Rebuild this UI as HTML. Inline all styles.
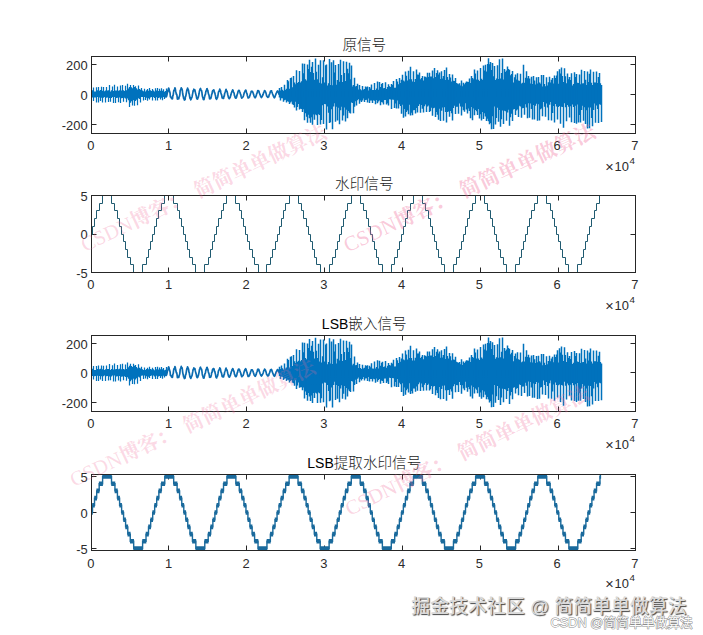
<!DOCTYPE html>
<html lang="zh-CN"><head><meta charset="utf-8"><title>LSB</title>
<style>
html,body{margin:0;padding:0;background:#fff;}
body{width:703px;height:635px;overflow:hidden;position:relative;font-family:"Liberation Sans","Noto Sans CJK SC",sans-serif;}
svg{position:absolute;left:0;top:0;display:block}
.tk{font-family:"Liberation Sans","Noto Sans CJK SC",sans-serif;font-size:12.9px;fill:#2b2b2b;}
.tt{font-family:"Liberation Sans","Noto Sans CJK SC",sans-serif;font-size:14.6px;fill:#1c1c1c;font-weight:300;}
.tt .lat{font-weight:400;fill:#000;font-size:14px}
.wv{fill:none;stroke:#0072BD;stroke-width:1.25}
.sp{fill:none;stroke:#0072BD;stroke-width:1.5}
.sn{fill:none;stroke:#0b6bb0;stroke-width:1.7;stroke-linejoin:round}
.pk{font-family:"Liberation Serif","Noto Serif CJK SC",serif;font-size:20.5px;font-weight:700;fill:#f06a98;}
.pl{font-weight:400}
.jj{position:absolute;left:411.3px;top:593px;font-size:18.9px;line-height:28px;white-space:nowrap;font-weight:500;color:#dadada;text-shadow:1px 1px 1px #444;letter-spacing:0px}
.cs{position:absolute;left:550.5px;top:613.6px;font-size:12.8px;line-height:18px;white-space:nowrap;color:#fdfdfd;-webkit-text-stroke:1px #8c8c8c;paint-order:stroke fill;}
</style></head><body>
<svg width="703" height="635" viewBox="0 0 703 635">
<rect width="703" height="635" fill="#fff"/>
<path d="M168.5,133.5v-5 M168.5,56.5v5 M246.5,133.5v-5 M246.5,56.5v5 M324.5,133.5v-5 M324.5,56.5v5 M402.5,133.5v-5 M402.5,56.5v5 M480.5,133.5v-5 M480.5,56.5v5 M558.5,133.5v-5 M558.5,56.5v5 M91.5,64.5h5 M635.5,64.5h-5 M91.5,94.5h5 M635.5,94.5h-5 M91.5,124.5h5 M635.5,124.5h-5" stroke="#262626" stroke-width="1" fill="none"/>
<path d="M92.5,90.2V97.5 M93.5,87.4V101.1 M94.5,91.4V97.6 M95.5,91.4V97.5 M96.5,87.3V102.4 M97.5,90.3V97.1 M98.5,86.9V102.5 M99.5,90.7V97.5 M100.5,90.1V101.0 M101.5,86.7V97.7 M102.5,90.7V102.4 M103.5,87.0V97.7 M104.5,91.2V97.1 M105.5,90.5V102.5 M106.5,86.9V97.7 M107.5,90.4V97.6 M108.5,90.2V101.9 M109.5,85.1V98.0 M110.5,91.4V101.7 M111.5,90.3V97.9 M112.5,86.6V97.1 M113.5,90.9V103.0 M114.5,84.7V97.0 M115.5,90.6V103.0 M116.5,90.4V98.0 M117.5,86.4V97.7 M118.5,90.7V102.2 M119.5,90.2V97.6 M120.5,85.4V102.9 M121.5,90.6V98.3 M122.5,84.9V97.9 M123.5,90.3V101.8 M124.5,91.0V97.8 M125.5,85.7V98.4 M126.5,90.3V102.3 M127.5,83.7V98.6 M128.5,88.5V100.3 M129.5,87.1V107.0 M130.5,84.9V102.7 M131.5,87.2V101.3 M132.5,88.3V105.6 M133.5,85.0V100.2 M134.5,87.0V105.8 M135.5,86.3V100.9 M136.5,88.2V99.8 M137.5,89.6V105.3 M138.5,85.6V98.3 M139.5,89.1V99.1 M140.5,89.8V102.6 M141.5,88.1V97.1 M142.5,90.5V97.1 M143.5,91.3V100.4 M144.5,88.8V97.0 M145.5,91.5V100.0 M146.5,90.2V97.7 M147.5,89.1V100.8 M148.5,90.7V98.2 M149.5,88.0V99.4 M150.5,90.2V97.5 M151.5,90.9V97.0 M152.5,89.1V100.6 M153.5,90.5V97.0 M154.5,91.6V98.0 M155.5,88.3V100.4 M156.5,90.6V97.2 M157.5,88.1V100.4 M158.5,91.0V97.9 M159.5,88.8V97.4 M160.5,90.7V99.5 M161.5,88.3V97.7 M162.5,90.7V100.3 M163.5,89.2V97.1 M164.5,91.7V98.9 M165.5,91.1V96.9 M166.5,88.5V97.2 M282.5,89.7V98.2 M285.5,90.0V99.8 M288.5,81.3V101.8 M291.5,77.4V101.6 M295.5,84.2V101.7 M297.5,82.9V107.1 M298.5,82.0V104.1 M300.5,82.5V108.8 M301.5,81.2V108.9 M303.5,73.3V109.2 M305.5,79.3V113.3 M306.5,80.4V116.7 M308.5,69.0V114.8 M311.5,66.8V117.2 M313.5,72.9V114.6 M316.5,71.8V115.2 M319.5,82.7V114.9 M321.5,83.6V120.1 M322.5,77.3V105.2 M324.5,82.6V104.1 M325.5,65.3V104.3 M327.5,85.4V106.5 M328.5,83.3V112.7 M330.5,84.9V122.3 M334.5,72.6V103.2 M336.5,84.8V106.7 M341.5,75.1V106.7 M344.5,73.1V107.5 M348.5,73.2V111.1 M352.5,86.6V103.0 M355.5,86.5V101.3 M358.5,89.4V98.9 M360.5,89.3V100.4 M363.5,89.7V98.6 M366.5,87.2V99.8 M368.5,90.4V98.6 M370.5,88.6V100.4 M373.5,90.0V100.3 M376.5,88.4V99.9 M378.5,89.8V101.5 M381.5,84.0V102.0 M384.5,87.9V100.0 M387.5,87.1V103.2 M389.5,86.2V99.3 M390.5,86.9V99.6 M392.5,84.9V99.4 M395.5,87.8V103.4 M397.5,81.5V100.4 M400.5,83.0V105.9 M404.5,81.5V109.0 M406.5,75.7V111.9 M407.5,80.6V110.4 M409.5,79.2V104.8 M411.5,79.2V112.7 M414.5,81.9V110.1 M418.5,74.8V105.9 M421.5,77.9V105.0 M424.5,76.4V106.3 M428.5,77.1V105.4 M430.5,76.5V110.9 M431.5,76.6V107.8 M433.5,78.2V108.2 M436.5,72.9V111.9 M442.5,78.6V107.4 M445.5,80.1V111.9 M447.5,77.1V111.9 M448.5,79.8V111.5 M450.5,77.4V110.9 M451.5,81.4V113.3 M453.5,80.7V107.9 M454.5,81.0V105.7 M456.5,83.0V106.7 M460.5,85.4V106.6 M462.5,86.3V106.8 M465.5,82.8V103.3 M468.5,82.0V108.6 M473.5,79.3V108.6 M475.5,73.5V110.0 M476.5,79.6V111.3 M478.5,79.8V108.9 M482.5,80.0V111.9 M484.5,70.5V113.3 M487.5,64.0V118.8 M496.5,78.4V117.9 M501.5,72.9V119.2 M505.5,72.1V111.3 M508.5,69.0V109.7 M510.5,75.3V117.3 M511.5,73.9V113.8 M513.5,82.5V109.5 M514.5,77.2V108.9 M516.5,79.6V110.4 M519.5,81.1V105.8 M522.5,82.7V108.2 M525.5,77.8V104.3 M530.5,83.5V103.4 M535.5,84.4V105.7 M540.5,83.8V109.2 M544.5,84.0V106.7 M547.5,85.4V107.5 M550.5,82.5V102.1 M553.5,83.5V106.1 M555.5,78.1V104.1 M556.5,75.5V106.6 M558.5,83.7V106.9 M562.5,75.9V107.0 M565.5,76.2V107.3 M568.5,79.2V106.8 M570.5,80.1V106.3 M572.5,85.4V104.4 M573.5,84.0V106.9 M575.5,77.1V105.8 M577.5,82.7V104.5 M582.5,83.4V105.7 M586.5,84.9V110.2 M588.5,81.9V107.4 M591.5,82.7V118.0 M594.5,82.5V103.6 M597.5,83.0V109.0 M600.5,83.2V104.8" class="wv"/><path d="M279.5,88.0V97.6 M280.5,90.5V100.5 M281.5,86.9V98.2 M283.5,90.8V101.7 M284.5,84.8V100.2 M286.5,88.7V102.4 M287.5,79.9V101.3 M289.5,88.8V104.1 M290.5,77.9V102.5 M292.5,87.2V104.3 M293.5,76.1V104.9 M294.5,82.5V107.4 M296.5,70.3V110.5 M299.5,71.0V109.4 M302.5,63.5V111.9 M304.5,63.7V120.3 M307.5,64.4V122.7 M309.5,59.8V118.2 M310.5,71.9V122.8 M312.5,62.0V124.8 M314.5,79.7V119.8 M315.5,58.6V114.4 M317.5,79.2V124.9 M318.5,64.7V114.2 M320.5,60.3V124.6 M323.5,60.3V124.0 M326.5,64.4V129.4 M329.5,59.0V123.0 M331.5,62.3V109.2 M332.5,85.3V129.3 M333.5,60.2V106.6 M335.5,65.1V121.8 M337.5,79.9V120.6 M338.5,63.9V107.7 M339.5,81.7V124.2 M340.5,59.7V110.2 M342.5,82.1V120.6 M343.5,61.3V115.5 M345.5,81.1V121.4 M346.5,61.7V109.7 M347.5,68.7V118.3 M349.5,62.8V112.7 M350.5,79.3V113.6 M351.5,65.5V102.4 M353.5,85.1V113.2 M354.5,77.7V106.7 M356.5,86.1V105.6 M357.5,83.8V100.2 M359.5,85.1V103.8 M361.5,90.2V102.0 M362.5,86.1V100.4 M364.5,89.0V101.9 M365.5,86.6V100.0 M367.5,86.5V102.4 M369.5,87.0V103.1 M371.5,84.4V100.4 M372.5,90.0V103.1 M374.5,82.9V100.7 M375.5,90.0V104.3 M377.5,81.4V103.2 M379.5,81.9V100.6 M380.5,87.0V105.3 M382.5,82.9V102.6 M383.5,88.2V104.4 M385.5,82.3V99.9 M386.5,89.0V104.5 M388.5,84.2V105.5 M391.5,84.1V108.9 M393.5,80.9V99.7 M394.5,87.8V108.0 M396.5,79.1V108.6 M398.5,84.2V108.6 M399.5,78.1V104.3 M401.5,79.7V113.8 M402.5,74.7V104.8 M403.5,80.6V117.8 M405.5,71.6V116.4 M408.5,70.7V114.2 M410.5,66.8V115.6 M412.5,81.6V115.2 M413.5,71.3V110.2 M415.5,79.0V113.5 M416.5,69.6V108.0 M417.5,74.6V112.5 M419.5,72.6V104.2 M420.5,79.2V112.8 M422.5,76.0V108.8 M423.5,80.5V112.5 M425.5,76.8V104.5 M426.5,77.5V112.0 M427.5,72.7V106.6 M429.5,72.7V112.0 M432.5,70.4V115.8 M434.5,68.0V107.7 M435.5,77.1V117.0 M437.5,70.3V114.7 M438.5,74.5V119.7 M439.5,72.4V108.7 M440.5,79.0V121.0 M441.5,71.3V110.7 M443.5,76.0V120.7 M444.5,69.9V107.2 M446.5,67.4V122.6 M449.5,74.1V116.7 M452.5,74.4V120.6 M455.5,77.9V113.9 M457.5,83.4V106.8 M458.5,84.2V113.7 M459.5,83.3V103.5 M461.5,80.5V115.6 M463.5,82.8V110.3 M464.5,84.3V111.8 M466.5,81.5V109.4 M467.5,81.8V113.4 M469.5,78.5V110.9 M470.5,83.1V118.2 M471.5,76.1V107.1 M472.5,78.1V120.2 M474.5,69.4V115.2 M477.5,70.4V115.0 M479.5,81.1V118.6 M480.5,68.1V114.3 M481.5,78.8V120.6 M483.5,65.5V119.0 M485.5,64.8V116.4 M486.5,71.6V121.0 M488.5,58.3V121.2 M489.5,64.2V124.3 M490.5,62.0V123.0 M491.5,70.0V129.2 M492.5,63.1V116.2 M493.5,76.2V129.0 M494.5,66.1V106.6 M495.5,79.9V124.6 M497.5,65.2V107.7 M498.5,79.0V121.8 M499.5,59.2V109.9 M500.5,78.5V126.8 M502.5,58.5V110.4 M503.5,79.5V124.1 M504.5,69.1V110.7 M506.5,70.4V120.8 M507.5,66.6V112.6 M509.5,69.7V125.8 M512.5,71.1V121.0 M515.5,74.5V115.1 M517.5,73.2V109.5 M518.5,80.5V117.0 M520.5,73.7V106.5 M521.5,83.5V117.8 M523.5,64.7V108.0 M524.5,82.8V114.7 M526.5,71.3V107.4 M527.5,78.2V118.2 M528.5,75.9V103.2 M529.5,78.6V117.7 M531.5,76.7V109.1 M532.5,83.9V119.5 M533.5,76.0V105.1 M534.5,80.5V119.6 M536.5,77.2V103.7 M537.5,83.5V120.7 M538.5,76.9V104.3 M539.5,82.5V120.5 M541.5,75.0V108.5 M542.5,86.6V116.3 M543.5,75.1V102.0 M545.5,86.2V116.7 M546.5,77.3V103.6 M548.5,82.3V120.2 M549.5,76.8V104.8 M551.5,79.8V120.6 M552.5,77.9V113.1 M554.5,75.6V122.6 M557.5,71.3V119.4 M559.5,69.2V106.0 M560.5,73.5V123.8 M561.5,67.4V106.7 M563.5,82.1V127.7 M564.5,68.3V103.3 M566.5,83.2V121.3 M567.5,73.4V105.0 M569.5,77.1V117.5 M571.5,73.2V122.3 M574.5,72.2V122.9 M576.5,74.1V123.7 M578.5,83.1V122.6 M579.5,74.4V114.9 M580.5,84.3V122.6 M581.5,69.7V110.1 M583.5,83.2V120.8 M584.5,71.0V107.3 M585.5,79.7V123.9 M587.5,71.4V128.5 M589.5,73.7V128.2 M590.5,69.6V107.6 M592.5,84.9V126.2 M593.5,71.7V110.1 M595.5,82.5V122.7 M596.5,71.5V105.4 M598.5,77.0V123.0 M599.5,72.9V104.2 M601.5,84.9V122.0" class="sp"/><path d="M165.50,97.62 165.85,96.88 166.20,95.91 166.55,96.22 166.90,95.01 167.25,93.35 167.60,91.97 167.95,90.84 168.30,89.00 168.65,88.15 169.00,88.84 169.35,90.91 169.70,91.84 170.05,93.09 170.40,96.82 170.75,96.73 171.10,97.22 171.45,98.31 171.80,98.55 172.15,98.87 172.50,98.72 172.85,95.61 173.20,95.20 173.55,92.16 173.90,90.08 174.25,90.36 174.60,89.52 174.95,87.79 175.30,88.76 175.65,91.18 176.00,92.68 176.35,94.30 176.70,94.08 177.05,96.04 177.40,99.18 177.75,98.31 178.10,98.26 178.45,98.84 178.80,98.78 179.15,96.91 179.50,96.29 179.85,94.75 180.20,90.53 180.55,89.89 180.90,89.20 181.25,87.75 181.60,89.21 181.95,88.90 182.30,90.32 182.65,93.51 183.00,95.22 183.35,96.87 183.70,98.50 184.05,98.72 184.40,100.04 184.75,99.55 185.10,99.55 185.45,96.45 185.80,96.21 186.15,94.18 186.50,92.13 186.85,89.84 187.20,89.86 187.55,88.09 187.90,89.07 188.25,89.60 188.60,90.74 188.95,93.42 189.30,94.17 189.65,96.51 190.00,98.46 190.35,97.83 190.70,99.93 191.05,99.34 191.40,98.28 191.75,97.63 192.10,96.70 192.45,94.59 192.80,92.79 193.15,90.72 193.50,90.97 193.85,89.23 194.20,89.72 194.55,90.06 194.90,89.93 195.25,91.86 195.60,93.37 195.95,94.66 196.30,95.92 196.65,98.18 197.00,98.65 197.35,99.14 197.70,98.82 198.05,97.61 198.40,96.82 198.75,95.08 199.10,93.51 199.45,90.99 199.80,90.17 200.15,88.94 200.50,88.45 200.85,90.02 201.20,90.18 201.55,90.63 201.90,92.35 202.25,95.37 202.60,96.98 202.95,97.70 203.30,99.36 203.65,99.47 204.00,99.67 204.35,97.86 204.70,96.52 205.05,94.86 205.40,94.66 205.75,92.01 206.10,90.75 206.45,90.73 206.80,88.83 207.15,88.71 207.50,90.67 207.85,90.35 208.20,92.76 208.55,94.17 208.90,94.82 209.25,96.50 209.60,98.76 209.95,98.85 210.30,98.75 210.65,98.59 211.00,97.89 211.35,96.35 211.70,94.11 212.05,93.79 212.40,91.45 212.75,90.56 213.10,90.65 213.45,89.97 213.80,89.85 214.15,90.92 214.50,92.93 214.85,92.83 215.20,94.70 215.55,95.81 215.90,98.40 216.25,98.84 216.60,99.43 216.95,97.89 217.30,97.95 217.65,97.00 218.00,95.09 218.35,92.79 218.70,91.52 219.05,91.27 219.40,90.68 219.75,89.15 220.10,89.93 220.45,90.43 220.80,92.50 221.15,93.92 221.50,94.40 221.85,96.23 222.20,97.96 222.55,97.44 222.90,98.27 223.25,97.88 223.60,98.36 223.95,96.16 224.30,96.04 224.65,93.39 225.00,92.60 225.35,91.56 225.70,90.37 226.05,89.39 226.40,90.42 226.75,91.16 227.10,91.53 227.45,93.20 227.80,94.79 228.15,96.12 228.50,97.50 228.85,98.19 229.20,98.53 229.55,98.55 229.90,97.46 230.25,97.24 230.60,95.76 230.95,94.84 231.30,93.22 231.65,92.43 232.00,91.16 232.35,90.92 232.70,89.86 233.05,90.48 233.40,91.76 233.75,92.51 234.10,93.23 234.45,95.68 234.80,95.99 235.15,97.48 235.50,98.00 235.85,97.73 236.20,98.00 236.55,97.13 236.90,95.84 237.25,94.20 237.60,93.66 237.95,91.81 238.30,90.95 238.65,90.38 239.00,90.43 239.35,90.72 239.70,91.72 240.05,92.62 240.40,93.92 240.75,94.43 241.10,96.25 241.45,97.40 241.80,98.19 242.15,97.59 242.50,97.41 242.85,97.07 243.20,96.61 243.55,95.48 243.90,94.14 244.25,92.71 244.60,92.01 244.95,90.92 245.30,90.78 245.65,90.04 246.00,90.53 246.35,91.88 246.70,93.35 247.05,93.76 247.40,95.75 247.75,96.76 248.10,97.95 248.45,97.92 248.80,97.81 249.15,97.35 249.50,96.91 249.85,95.50 250.20,94.87 250.55,93.35 250.90,92.47 251.25,91.30 251.60,91.24 251.95,91.20 252.30,91.23 252.65,92.04 253.00,92.64 253.35,93.88 253.70,94.83 254.05,96.03 254.40,96.82 254.75,97.16 255.10,97.83 255.45,97.61 255.80,96.22 256.15,96.20 256.50,94.42 256.85,93.32 257.20,92.89 257.55,91.12 257.90,90.49 258.25,90.60 258.60,90.70 258.95,91.21 259.30,92.85 259.65,93.53 260.00,94.72 260.35,95.47 260.70,96.41 261.05,97.00 261.40,97.51 261.75,97.02 262.10,96.72 262.45,95.86 262.80,95.30 263.15,94.37 263.50,93.15 263.85,91.97 264.20,91.59 264.55,90.51 264.90,90.89 265.25,91.29 265.60,92.08 265.95,93.04 266.30,94.37 266.65,95.99 267.00,96.10 267.35,96.84 267.70,97.45 268.05,97.39 268.40,96.86 268.75,96.75 269.10,95.07 269.45,94.48 269.80,93.57 270.15,92.40 270.50,91.19 270.85,91.33 271.20,90.75 271.55,90.84 271.90,92.02 272.25,93.06 272.60,94.03 272.95,94.90 273.30,95.80 273.65,96.71 274.00,97.13 274.35,97.80 274.70,97.45 275.05,96.73 275.40,95.35 275.75,94.76 276.10,93.42 276.45,92.99 276.80,92.16 277.15,91.45 277.50,90.90 277.85,91.10 278.20,91.67 278.55,92.89 278.90,93.66 279.25,94.77" class="sn"/>
<text x="90.8" y="149.8" text-anchor="middle" class="tk">0</text>
<text x="168.5" y="149.8" text-anchor="middle" class="tk">1</text>
<text x="246.2" y="149.8" text-anchor="middle" class="tk">2</text>
<text x="323.9" y="149.8" text-anchor="middle" class="tk">3</text>
<text x="401.7" y="149.8" text-anchor="middle" class="tk">4</text>
<text x="479.4" y="149.8" text-anchor="middle" class="tk">5</text>
<text x="557.1" y="149.8" text-anchor="middle" class="tk">6</text>
<text x="634.8" y="149.8" text-anchor="middle" class="tk">7</text>
<text x="87.6" y="69.7" text-anchor="end" class="tk">200</text>
<text x="87.6" y="99.7" text-anchor="end" class="tk">0</text>
<text x="87.6" y="129.7" text-anchor="end" class="tk">-200</text>
<rect x="91.5" y="56.5" width="544.0" height="77.0" fill="none" stroke="#262626" stroke-width="1"/>
<text x="605.2" y="172.3" class="tk" style="font-size:14.5px">×</text><text x="614.6" y="170.5" class="tk">10</text><text x="629.6" y="164.0" class="tk" style="font-size:9.8px">4</text>
<text x="364.3" y="49.5" text-anchor="middle" class="tt">原信号</text>
<path d="M168.5,272.5v-5 M168.5,195.5v5 M246.5,272.5v-5 M246.5,195.5v5 M324.5,272.5v-5 M324.5,195.5v5 M402.5,272.5v-5 M402.5,195.5v5 M480.5,272.5v-5 M480.5,195.5v5 M558.5,272.5v-5 M558.5,195.5v5 M91.5,234.5h5 M635.5,234.5h-5" stroke="#262626" stroke-width="1" fill="none"/>
<path d="M91.50,234.50 H92.50 V226.50 H94.50 V218.50 H96.50 V210.50 H99.50 V203.50 H102.50 V195.50 H111.50 V203.50 H114.50 V210.50 H117.50 V218.50 H119.50 V226.50 H121.50 V234.50 H123.50 V241.50 H125.50 V249.50 H127.50 V257.50 H130.50 V264.50 H133.50 V272.50 H142.50 V264.50 H146.50 V257.50 H148.50 V249.50 H150.50 V241.50 H152.50 V234.50 H154.50 V226.50 H156.50 V218.50 H158.50 V210.50 H161.50 V203.50 H164.50 V195.50 H173.50 V203.50 H177.50 V210.50 H179.50 V218.50 H181.50 V226.50 H183.50 V234.50 H185.50 V241.50 H187.50 V249.50 H189.50 V257.50 H192.50 V264.50 H195.50 V272.50 H204.50 V264.50 H208.50 V257.50 H210.50 V249.50 H212.50 V241.50 H214.50 V234.50 H216.50 V226.50 H218.50 V218.50 H221.50 V210.50 H223.50 V203.50 H226.50 V195.50 H235.50 V203.50 H239.50 V210.50 H241.50 V218.50 H243.50 V226.50 H245.50 V234.50 H247.50 V241.50 H249.50 V249.50 H252.50 V257.50 H254.50 V264.50 H258.50 V272.50 H266.50 V264.50 H270.50 V257.50 H272.50 V249.50 H275.50 V241.50 H277.50 V234.50 H279.50 V226.50 H281.50 V218.50 H283.50 V210.50 H285.50 V203.50 H289.50 V195.50 H298.50 V203.50 H301.50 V210.50 H303.50 V218.50 H306.50 V226.50 H308.50 V234.50 H310.50 V241.50 H312.50 V249.50 H314.50 V257.50 H316.50 V264.50 H320.50 V272.50 H329.50 V264.50 H332.50 V257.50 H335.50 V249.50 H337.50 V241.50 H339.50 V234.50 H341.50 V226.50 H343.50 V218.50 H345.50 V210.50 H347.50 V203.50 H351.50 V195.50 H360.50 V203.50 H363.50 V210.50 H366.50 V218.50 H368.50 V226.50 H370.50 V234.50 H372.50 V241.50 H374.50 V249.50 H376.50 V257.50 H378.50 V264.50 H382.50 V272.50 H391.50 V264.50 H394.50 V257.50 H397.50 V249.50 H399.50 V241.50 H401.50 V234.50 H403.50 V226.50 H405.50 V218.50 H407.50 V210.50 H410.50 V203.50 H413.50 V195.50 H422.50 V203.50 H425.50 V210.50 H428.50 V218.50 H430.50 V226.50 H432.50 V234.50 H434.50 V241.50 H436.50 V249.50 H438.50 V257.50 H441.50 V264.50 H444.50 V272.50 H453.50 V264.50 H456.50 V257.50 H459.50 V249.50 H461.50 V241.50 H463.50 V234.50 H465.50 V226.50 H467.50 V218.50 H469.50 V210.50 H472.50 V203.50 H475.50 V195.50 H484.50 V203.50 H487.50 V210.50 H490.50 V218.50 H492.50 V226.50 H494.50 V234.50 H496.50 V241.50 H498.50 V249.50 H500.50 V257.50 H503.50 V264.50 H506.50 V272.50 H515.50 V264.50 H519.50 V257.50 H521.50 V249.50 H523.50 V241.50 H525.50 V234.50 H527.50 V226.50 H529.50 V218.50 H531.50 V210.50 H534.50 V203.50 H537.50 V195.50 H546.50 V203.50 H550.50 V210.50 H552.50 V218.50 H554.50 V226.50 H556.50 V234.50 H558.50 V241.50 H560.50 V249.50 H562.50 V257.50 H565.50 V264.50 H568.50 V272.50 H577.50 V264.50 H581.50 V257.50 H583.50 V249.50 H585.50 V241.50 H587.50 V234.50 H589.50 V226.50 H591.50 V218.50 H594.50 V210.50 H596.50 V203.50 H599.50 V195.50 H600.50" fill="none" stroke="#1f5a70" stroke-width="1"/>
<text x="90.8" y="288.8" text-anchor="middle" class="tk">0</text>
<text x="168.5" y="288.8" text-anchor="middle" class="tk">1</text>
<text x="246.2" y="288.8" text-anchor="middle" class="tk">2</text>
<text x="323.9" y="288.8" text-anchor="middle" class="tk">3</text>
<text x="401.7" y="288.8" text-anchor="middle" class="tk">4</text>
<text x="479.4" y="288.8" text-anchor="middle" class="tk">5</text>
<text x="557.1" y="288.8" text-anchor="middle" class="tk">6</text>
<text x="634.8" y="288.8" text-anchor="middle" class="tk">7</text>
<text x="87.6" y="200.7" text-anchor="end" class="tk">5</text>
<text x="87.6" y="239.2" text-anchor="end" class="tk">0</text>
<text x="87.6" y="277.7" text-anchor="end" class="tk">-5</text>
<rect x="91.5" y="195.5" width="544.0" height="77.0" fill="none" stroke="#262626" stroke-width="1"/>
<text x="605.2" y="311.3" class="tk" style="font-size:14.5px">×</text><text x="614.6" y="309.5" class="tk">10</text><text x="629.6" y="303.0" class="tk" style="font-size:9.8px">4</text>
<text x="364.3" y="188.5" text-anchor="middle" class="tt">水印信号</text>
<path d="M168.5,411.5v-5 M168.5,335.5v5 M246.5,411.5v-5 M246.5,335.5v5 M324.5,411.5v-5 M324.5,335.5v5 M402.5,411.5v-5 M402.5,335.5v5 M480.5,411.5v-5 M480.5,335.5v5 M558.5,411.5v-5 M558.5,335.5v5 M91.5,343.5h5 M635.5,343.5h-5 M91.5,372.5h5 M635.5,372.5h-5 M91.5,402.5h5 M635.5,402.5h-5" stroke="#262626" stroke-width="1" fill="none"/>
<path d="M92.5,368.8V376.0 M93.5,366.1V379.6 M94.5,370.0V376.2 M95.5,370.1V376.1 M96.5,366.0V380.9 M97.5,369.0V375.7 M98.5,365.6V381.0 M99.5,369.3V376.0 M100.5,368.8V379.5 M101.5,365.4V376.2 M102.5,369.3V380.9 M103.5,365.7V376.3 M104.5,369.9V375.6 M105.5,369.2V380.9 M106.5,365.6V376.2 M107.5,369.1V376.1 M108.5,368.9V380.4 M109.5,363.9V376.5 M110.5,370.0V380.2 M111.5,368.9V376.5 M112.5,365.3V375.6 M113.5,369.5V381.5 M114.5,363.4V375.5 M115.5,369.2V381.5 M116.5,369.0V376.6 M117.5,365.1V376.3 M118.5,369.3V380.6 M119.5,368.8V376.1 M120.5,364.2V381.4 M121.5,369.2V376.8 M122.5,363.7V376.5 M123.5,368.9V380.3 M124.5,369.6V376.3 M125.5,364.4V376.9 M126.5,369.0V380.8 M127.5,362.4V377.2 M128.5,367.2V378.8 M129.5,365.8V385.4 M130.5,363.7V381.2 M131.5,365.9V379.8 M132.5,367.0V384.0 M133.5,363.7V378.7 M134.5,365.7V384.2 M135.5,365.0V379.4 M136.5,366.9V378.3 M137.5,368.3V383.8 M138.5,364.3V376.8 M139.5,367.8V377.6 M140.5,368.5V381.1 M141.5,366.8V375.7 M142.5,369.2V375.6 M143.5,370.0V378.9 M144.5,367.5V375.6 M145.5,370.1V378.5 M146.5,368.9V376.3 M147.5,367.7V379.3 M148.5,369.3V376.7 M149.5,366.7V377.9 M150.5,368.9V376.0 M151.5,369.6V375.5 M152.5,367.8V379.1 M153.5,369.2V375.6 M154.5,370.2V376.6 M155.5,367.0V378.9 M156.5,369.3V375.7 M157.5,366.8V378.9 M158.5,369.6V376.5 M159.5,367.5V376.0 M160.5,369.3V378.1 M161.5,367.0V376.3 M162.5,369.3V378.8 M163.5,367.9V375.7 M164.5,370.3V377.4 M165.5,369.8V375.5 M166.5,367.1V375.8 M282.5,368.3V376.7 M285.5,368.6V378.3 M288.5,360.1V380.3 M291.5,356.3V380.1 M295.5,363.0V380.2 M297.5,361.7V385.5 M298.5,360.7V382.6 M300.5,361.3V387.2 M301.5,360.0V387.2 M303.5,352.2V387.5 M305.5,358.1V391.6 M306.5,359.2V395.0 M308.5,348.0V393.1 M311.5,345.8V395.4 M313.5,351.8V392.9 M316.5,350.7V393.5 M319.5,361.5V393.2 M321.5,362.4V398.3 M322.5,356.2V383.6 M324.5,361.4V382.6 M325.5,344.4V382.7 M327.5,364.2V384.9 M328.5,362.1V391.1 M330.5,363.6V400.5 M334.5,351.5V381.7 M336.5,363.6V385.1 M341.5,354.0V385.2 M344.5,352.0V385.9 M348.5,352.1V389.4 M352.5,365.3V381.5 M355.5,365.3V379.8 M358.5,368.1V377.4 M360.5,368.0V379.0 M363.5,368.4V377.1 M366.5,365.9V378.3 M368.5,369.1V377.1 M370.5,367.3V378.9 M373.5,368.7V378.8 M376.5,367.1V378.4 M378.5,368.4V380.0 M381.5,362.7V380.5 M384.5,366.6V378.6 M387.5,365.8V381.6 M389.5,365.0V377.8 M390.5,365.6V378.1 M392.5,363.7V378.0 M395.5,366.5V381.9 M397.5,360.3V378.9 M400.5,361.7V384.3 M404.5,360.3V387.4 M406.5,354.6V390.2 M407.5,359.4V388.8 M409.5,358.0V383.2 M411.5,358.0V391.0 M414.5,360.6V388.4 M418.5,353.6V384.3 M421.5,356.7V383.4 M424.5,355.2V384.7 M428.5,355.9V383.8 M430.5,355.4V389.2 M431.5,355.4V386.1 M433.5,357.1V386.6 M436.5,351.8V390.2 M442.5,357.4V385.8 M445.5,358.9V390.3 M447.5,355.9V390.3 M448.5,358.6V389.9 M450.5,356.3V389.3 M451.5,360.2V391.6 M453.5,359.5V386.3 M454.5,359.8V384.2 M456.5,361.7V385.1 M460.5,364.2V385.1 M462.5,365.0V385.2 M465.5,361.6V381.8 M468.5,360.8V387.0 M473.5,358.1V387.0 M475.5,352.4V388.4 M476.5,358.4V389.7 M478.5,358.6V387.2 M482.5,358.8V390.2 M484.5,349.4V391.6 M487.5,343.0V397.0 M496.5,357.3V396.2 M501.5,351.8V397.4 M505.5,351.1V389.6 M508.5,347.9V388.0 M510.5,354.2V395.6 M511.5,352.8V392.1 M513.5,361.3V387.8 M514.5,356.1V387.3 M516.5,358.4V388.8 M519.5,359.9V384.3 M522.5,361.5V386.5 M525.5,356.7V382.8 M530.5,362.2V381.9 M535.5,363.1V384.1 M540.5,362.5V387.6 M544.5,362.8V385.1 M547.5,364.2V385.9 M550.5,361.3V380.6 M553.5,362.3V384.5 M555.5,356.9V382.6 M556.5,354.4V385.0 M558.5,362.4V385.3 M562.5,354.8V385.4 M565.5,355.1V385.7 M568.5,358.1V385.2 M570.5,358.9V384.7 M572.5,364.1V382.9 M573.5,362.8V385.3 M575.5,356.0V384.2 M577.5,361.5V383.0 M582.5,362.2V384.1 M586.5,363.6V388.5 M588.5,360.6V385.8 M591.5,361.5V396.2 M594.5,361.3V382.0 M597.5,361.8V387.3 M600.5,361.9V383.2" class="wv"/><path d="M279.5,366.7V376.1 M280.5,369.1V379.0 M281.5,365.6V376.7 M283.5,369.5V380.1 M284.5,363.5V378.7 M286.5,367.4V380.9 M287.5,358.7V379.8 M289.5,367.5V382.5 M290.5,356.7V380.9 M292.5,365.9V382.8 M293.5,355.0V383.3 M294.5,361.3V385.8 M296.5,349.3V388.9 M299.5,349.9V387.8 M302.5,342.6V390.2 M304.5,342.8V398.5 M307.5,343.5V400.8 M309.5,339.0V396.4 M310.5,350.8V401.0 M312.5,341.1V403.0 M314.5,358.6V398.0 M315.5,337.8V392.7 M317.5,358.1V403.0 M318.5,343.8V392.5 M320.5,339.4V402.8 M323.5,339.4V402.2 M326.5,343.5V407.5 M329.5,338.2V401.2 M331.5,341.4V387.6 M332.5,364.0V407.4 M333.5,339.3V385.0 M335.5,344.2V400.0 M337.5,358.7V398.8 M338.5,342.9V386.1 M339.5,360.5V402.3 M340.5,338.8V388.5 M342.5,360.9V398.8 M343.5,340.4V393.8 M345.5,359.9V399.6 M346.5,340.8V388.0 M347.5,347.7V396.6 M349.5,341.8V391.0 M350.5,358.1V391.9 M351.5,344.6V380.9 M353.5,363.8V391.5 M354.5,356.6V385.1 M356.5,364.9V384.1 M357.5,362.5V378.7 M359.5,363.9V382.2 M361.5,368.9V380.5 M362.5,364.8V378.9 M364.5,367.7V380.4 M365.5,365.3V378.5 M367.5,365.2V380.9 M369.5,365.7V381.5 M371.5,363.2V378.9 M372.5,368.6V381.6 M374.5,361.6V379.2 M375.5,368.6V382.8 M377.5,360.2V381.7 M379.5,360.7V379.1 M380.5,365.7V383.7 M382.5,361.7V381.1 M383.5,366.9V382.9 M385.5,361.1V378.4 M386.5,367.7V382.9 M388.5,362.9V383.9 M391.5,362.8V387.3 M393.5,359.7V378.2 M394.5,366.5V386.4 M396.5,357.9V387.0 M398.5,362.9V387.0 M399.5,356.9V382.7 M401.5,358.5V392.1 M402.5,353.6V383.3 M403.5,359.4V396.0 M405.5,350.5V394.7 M408.5,349.7V392.5 M410.5,345.8V393.9 M412.5,360.4V393.4 M413.5,350.3V388.5 M415.5,357.8V391.8 M416.5,348.6V386.4 M417.5,353.5V390.8 M419.5,351.5V382.6 M420.5,358.0V391.1 M422.5,354.9V387.2 M423.5,359.3V390.8 M425.5,355.7V383.0 M426.5,356.4V390.4 M427.5,351.6V385.1 M429.5,351.6V390.4 M432.5,349.3V394.1 M434.5,347.0V386.1 M435.5,356.0V395.3 M437.5,349.3V393.0 M438.5,353.4V397.9 M439.5,351.4V387.1 M440.5,357.8V399.2 M441.5,350.2V389.0 M443.5,354.9V398.9 M444.5,348.9V385.6 M446.5,346.4V400.8 M449.5,353.0V395.0 M452.5,353.3V398.8 M455.5,356.8V392.2 M457.5,362.2V385.2 M458.5,362.9V392.0 M459.5,362.1V381.9 M461.5,359.3V393.8 M463.5,361.6V388.6 M464.5,363.1V390.2 M466.5,360.3V387.8 M467.5,360.6V391.7 M469.5,357.4V389.2 M470.5,361.9V396.4 M471.5,355.0V385.5 M472.5,356.9V398.4 M474.5,348.4V393.5 M477.5,349.4V393.3 M479.5,359.9V396.8 M480.5,347.1V392.6 M481.5,357.6V398.8 M483.5,344.5V397.2 M485.5,343.8V394.7 M486.5,350.5V399.2 M488.5,337.5V399.4 M489.5,343.2V402.5 M490.5,341.1V401.1 M491.5,348.9V407.2 M492.5,342.2V394.5 M493.5,355.1V407.1 M494.5,345.1V385.0 M495.5,358.7V402.8 M497.5,344.3V386.1 M498.5,357.8V399.9 M499.5,338.3V388.3 M500.5,357.3V404.9 M502.5,337.6V388.7 M503.5,358.4V402.3 M504.5,348.1V389.1 M506.5,349.4V399.0 M507.5,345.6V390.9 M509.5,348.7V403.9 M512.5,350.0V399.2 M515.5,353.4V393.4 M517.5,352.2V387.9 M518.5,359.3V395.2 M520.5,352.6V384.9 M521.5,362.2V396.0 M523.5,343.8V386.4 M524.5,361.6V393.0 M526.5,350.2V385.8 M527.5,357.0V396.4 M528.5,354.8V381.6 M529.5,357.4V395.9 M531.5,355.5V387.5 M532.5,362.6V397.7 M533.5,354.9V383.5 M534.5,359.3V397.8 M536.5,356.1V382.1 M537.5,362.3V398.9 M538.5,355.8V382.7 M539.5,361.3V398.7 M541.5,353.9V386.9 M542.5,365.3V394.5 M543.5,354.0V380.5 M545.5,364.9V394.9 M546.5,356.2V382.1 M548.5,361.1V398.4 M549.5,355.7V383.2 M551.5,358.6V398.8 M552.5,356.7V391.4 M554.5,354.4V400.7 M557.5,350.2V397.6 M559.5,348.2V384.4 M560.5,352.4V401.9 M561.5,346.4V385.1 M563.5,360.9V405.8 M564.5,347.2V381.7 M566.5,362.0V399.5 M567.5,352.3V383.4 M569.5,355.9V395.8 M571.5,352.1V400.4 M574.5,351.1V401.1 M576.5,353.0V401.9 M578.5,361.9V400.8 M579.5,353.3V393.2 M580.5,363.1V400.8 M581.5,348.7V388.5 M583.5,361.9V399.0 M584.5,349.9V385.7 M585.5,358.5V402.1 M587.5,350.4V406.6 M589.5,352.6V406.3 M590.5,348.5V386.0 M592.5,363.6V404.4 M593.5,350.6V388.4 M595.5,361.2V400.9 M596.5,350.4V383.8 M598.5,355.8V401.1 M599.5,351.8V382.7 M601.5,363.6V400.2" class="sp"/><path d="M165.50,376.17 165.85,375.44 166.20,374.49 166.55,374.79 166.90,373.60 167.25,371.96 167.60,370.60 167.95,369.49 168.30,367.68 168.65,366.84 169.00,367.52 169.35,369.56 169.70,370.48 170.05,371.70 170.40,375.38 170.75,375.29 171.10,375.78 171.45,376.84 171.80,377.08 172.15,377.40 172.50,377.26 172.85,374.19 173.20,373.79 173.55,370.79 173.90,368.74 174.25,369.02 174.60,368.19 174.95,366.49 175.30,367.44 175.65,369.82 176.00,371.30 176.35,372.90 176.70,372.69 177.05,374.61 177.40,377.71 177.75,376.85 178.10,376.80 178.45,377.37 178.80,377.31 179.15,375.47 179.50,374.86 179.85,373.34 180.20,369.19 180.55,368.56 180.90,367.88 181.25,366.44 181.60,367.88 181.95,367.58 182.30,368.98 182.65,372.12 183.00,373.81 183.35,375.43 183.70,377.04 184.05,377.25 184.40,378.55 184.75,378.07 185.10,378.07 185.45,375.02 185.80,374.78 186.15,372.78 186.50,370.76 186.85,368.51 187.20,368.53 187.55,366.78 187.90,367.75 188.25,368.27 188.60,369.39 188.95,372.03 189.30,372.77 189.65,375.07 190.00,377.00 190.35,376.38 190.70,378.45 191.05,377.87 191.40,376.82 191.75,376.18 192.10,375.27 192.45,373.19 192.80,371.41 193.15,369.37 193.50,369.62 193.85,367.90 194.20,368.39 194.55,368.72 194.90,368.59 195.25,370.49 195.60,371.99 195.95,373.25 196.30,374.49 196.65,376.72 197.00,377.18 197.35,377.67 197.70,377.35 198.05,376.16 198.40,375.38 198.75,373.67 199.10,372.12 199.45,369.64 199.80,368.83 200.15,367.62 200.50,367.14 200.85,368.68 201.20,368.84 201.55,369.28 201.90,370.98 202.25,373.95 202.60,375.54 202.95,376.25 203.30,377.88 203.65,377.99 204.00,378.18 204.35,376.41 204.70,375.09 205.05,373.45 205.40,373.25 205.75,370.65 206.10,369.40 206.45,369.38 206.80,367.51 207.15,367.39 207.50,369.32 207.85,369.01 208.20,371.38 208.55,372.77 208.90,373.41 209.25,375.06 209.60,377.29 209.95,377.38 210.30,377.28 210.65,377.12 211.00,376.43 211.35,374.92 211.70,372.71 212.05,372.40 212.40,370.09 212.75,369.22 213.10,369.30 213.45,368.63 213.80,368.52 214.15,369.56 214.50,371.55 214.85,371.45 215.20,373.30 215.55,374.39 215.90,376.93 216.25,377.37 216.60,377.95 216.95,376.43 217.30,376.49 217.65,375.56 218.00,373.68 218.35,371.41 218.70,370.16 219.05,369.92 219.40,369.33 219.75,367.83 220.10,368.60 220.45,369.08 220.80,371.12 221.15,372.52 221.50,373.00 221.85,374.80 222.20,376.51 222.55,375.99 222.90,376.81 223.25,376.43 223.60,376.90 223.95,374.73 224.30,374.61 224.65,372.01 225.00,371.22 225.35,370.20 225.70,369.03 226.05,368.06 226.40,369.08 226.75,369.81 227.10,370.17 227.45,371.82 227.80,373.39 228.15,374.69 228.50,376.05 228.85,376.73 229.20,377.06 229.55,377.09 229.90,376.01 230.25,375.80 230.60,374.33 230.95,373.43 231.30,371.83 231.65,371.05 232.00,369.80 232.35,369.57 232.70,368.53 233.05,369.14 233.40,370.40 233.75,371.13 234.10,371.84 234.45,374.25 234.80,374.56 235.15,376.03 235.50,376.55 235.85,376.28 236.20,376.54 236.55,375.69 236.90,374.42 237.25,372.80 237.60,372.27 237.95,370.44 238.30,369.60 238.65,369.04 239.00,369.09 239.35,369.38 239.70,370.36 240.05,371.25 240.40,372.52 240.75,373.02 241.10,374.82 241.45,375.95 241.80,376.73 242.15,376.14 242.50,375.96 242.85,375.63 243.20,375.17 243.55,374.06 243.90,372.74 244.25,371.33 244.60,370.64 244.95,369.57 245.30,369.43 245.65,368.70 246.00,369.18 246.35,370.52 246.70,371.97 247.05,372.36 247.40,374.32 247.75,375.32 248.10,376.50 248.45,376.47 248.80,376.35 249.15,375.90 249.50,375.47 249.85,374.08 250.20,373.46 250.55,371.97 250.90,371.10 251.25,369.94 251.60,369.89 251.95,369.85 252.30,369.88 252.65,370.67 253.00,371.27 253.35,372.49 253.70,373.42 254.05,374.60 254.40,375.38 254.75,375.71 255.10,376.37 255.45,376.16 255.80,374.79 256.15,374.77 256.50,373.02 256.85,371.93 257.20,371.51 257.55,369.77 257.90,369.15 258.25,369.26 258.60,369.36 258.95,369.86 259.30,371.47 259.65,372.14 260.00,373.31 260.35,374.05 260.70,374.98 261.05,375.56 261.40,376.06 261.75,375.58 262.10,375.28 262.45,374.44 262.80,373.89 263.15,372.97 263.50,371.77 263.85,370.60 264.20,370.23 264.55,369.16 264.90,369.54 265.25,369.93 265.60,370.71 265.95,371.65 266.30,372.96 266.65,374.56 267.00,374.67 267.35,375.40 267.70,376.00 268.05,375.94 268.40,375.42 268.75,375.31 269.10,373.66 269.45,373.08 269.80,372.18 270.15,371.03 270.50,369.84 270.85,369.98 271.20,369.40 271.55,369.49 271.90,370.65 272.25,371.67 272.60,372.63 272.95,373.49 273.30,374.37 273.65,375.27 274.00,375.69 274.35,376.35 274.70,376.00 275.05,375.29 275.40,373.93 275.75,373.35 276.10,372.03 276.45,371.61 276.80,370.79 277.15,370.10 277.50,369.55 277.85,369.75 278.20,370.31 278.55,371.51 278.90,372.27 279.25,373.36" class="sn"/>
<text x="90.8" y="427.8" text-anchor="middle" class="tk">0</text>
<text x="168.5" y="427.8" text-anchor="middle" class="tk">1</text>
<text x="246.2" y="427.8" text-anchor="middle" class="tk">2</text>
<text x="323.9" y="427.8" text-anchor="middle" class="tk">3</text>
<text x="401.7" y="427.8" text-anchor="middle" class="tk">4</text>
<text x="479.4" y="427.8" text-anchor="middle" class="tk">5</text>
<text x="557.1" y="427.8" text-anchor="middle" class="tk">6</text>
<text x="634.8" y="427.8" text-anchor="middle" class="tk">7</text>
<text x="87.6" y="348.7" text-anchor="end" class="tk">200</text>
<text x="87.6" y="378.2" text-anchor="end" class="tk">0</text>
<text x="87.6" y="407.7" text-anchor="end" class="tk">-200</text>
<rect x="91.5" y="335.5" width="544.0" height="76.0" fill="none" stroke="#262626" stroke-width="1"/>
<text x="605.2" y="450.3" class="tk" style="font-size:14.5px">×</text><text x="614.6" y="448.5" class="tk">10</text><text x="629.6" y="442.0" class="tk" style="font-size:9.8px">4</text>
<text x="364.3" y="328.5" text-anchor="middle" class="tt"><tspan class="lat">LSB</tspan>嵌入信号</text>
<path d="M168.5,550.5v-5 M168.5,474.5v5 M246.5,550.5v-5 M246.5,474.5v5 M324.5,550.5v-5 M324.5,474.5v5 M402.5,550.5v-5 M402.5,474.5v5 M480.5,550.5v-5 M480.5,474.5v5 M558.5,550.5v-5 M558.5,474.5v5 M91.5,476.5h5 M635.5,476.5h-5 M91.5,512.5h5 M635.5,512.5h-5 M91.5,548.5h5 M635.5,548.5h-5" stroke="#262626" stroke-width="1" fill="none"/>
<path d="M91.20,510.20H92.79V514.80H91.20Z M92.19,503.00H94.82V507.60H92.19Z M94.22,495.81H96.99V500.41H94.22Z M96.39,488.61H99.48V493.21H96.39Z M98.88,481.41H102.90V486.01H98.88Z M102.30,474.22H111.82V478.82H102.30Z M111.22,481.41H115.24V486.01H111.22Z M114.64,488.61H117.73V493.21H114.64Z M117.13,495.81H119.90V500.41H117.13Z M119.30,503.00H121.92V507.60H119.30Z M121.32,510.20H123.88V514.80H121.32Z M123.28,517.40H125.90V522.00H123.28Z M125.30,524.59H128.08V529.19H125.30Z M127.48,531.79H130.56V536.39H127.48Z M129.96,538.99H133.98V543.59H129.96Z M133.38,546.18H142.90V550.78H133.38Z M142.30,538.99H146.32V543.59H142.30Z M145.72,531.79H148.81V536.39H145.72Z M148.21,524.59H150.99V529.19H148.21Z M150.39,517.40H153.01V522.00H150.39Z M152.41,510.20H154.97V514.80H152.41Z M154.37,503.00H156.99V507.60H154.37Z M156.39,495.81H159.16V500.41H156.39Z M158.56,488.61H161.65V493.21H158.56Z M161.05,481.41H165.07V486.01H161.05Z M164.47,474.22H173.99V478.82H164.47Z M173.39,481.41H177.41V486.01H173.39Z M176.81,488.61H179.90V493.21H176.81Z M179.30,495.81H182.07V500.41H179.30Z M181.47,503.00H184.09V507.60H181.47Z M183.49,510.20H186.05V514.80H183.49Z M185.45,517.40H188.07V522.00H185.45Z M187.47,524.59H190.25V529.19H187.47Z M189.65,531.79H192.74V536.39H189.65Z M192.14,538.99H196.15V543.59H192.14Z M195.55,546.18H205.08V550.78H195.55Z M204.48,538.99H208.50V543.59H204.48Z M207.90,531.79H210.98V536.39H207.90Z M210.38,524.59H213.16V529.19H210.38Z M212.56,517.40H215.18V522.00H212.56Z M214.58,510.20H217.14V514.80H214.58Z M216.54,503.00H219.16V507.60H216.54Z M218.56,495.81H221.33V500.41H218.56Z M220.73,488.61H223.82V493.21H220.73Z M223.22,481.41H227.24V486.01H223.22Z M226.64,474.22H236.16V478.82H226.64Z M235.56,481.41H239.58V486.01H235.56Z M238.98,488.61H242.07V493.21H238.98Z M241.47,495.81H244.24V500.41H241.47Z M243.64,503.00H246.26V507.60H243.64Z M245.66,510.20H248.22V514.80H245.66Z M247.62,517.40H250.24V522.00H247.62Z M249.64,524.59H252.42V529.19H249.64Z M251.82,531.79H254.91V536.39H251.82Z M254.31,538.99H258.33V543.59H254.31Z M257.73,546.18H267.25V550.78H257.73Z M266.65,538.99H270.67V543.59H266.65Z M270.07,531.79H273.15V536.39H270.07Z M272.55,524.59H275.33V529.19H272.55Z M274.73,517.40H277.35V522.00H274.73Z M276.75,510.20H279.31V514.80H276.75Z M278.71,503.00H281.33V507.60H278.71Z M280.73,495.81H283.51V500.41H280.73Z M282.91,488.61H285.99V493.21H282.91Z M285.39,481.41H289.41V486.01H285.39Z M288.81,474.22H298.33V478.82H288.81Z M297.73,481.41H301.75V486.01H297.73Z M301.15,488.61H304.24V493.21H301.15Z M303.64,495.81H306.42V500.41H303.64Z M305.82,503.00H308.44V507.60H305.82Z M307.84,510.20H310.39V514.80H307.84Z M309.79,517.40H312.42V522.00H309.79Z M311.82,524.59H314.59V529.19H311.82Z M313.99,531.79H317.08V536.39H313.99Z M316.48,538.99H320.50V543.59H316.48Z M319.90,546.18H329.42V550.78H319.90Z M328.82,538.99H332.84V543.59H328.82Z M332.24,531.79H335.33V536.39H332.24Z M334.73,524.59H337.50V529.19H334.73Z M336.90,517.40H339.52V522.00H336.90Z M338.92,510.20H341.48V514.80H338.92Z M340.88,503.00H343.50V507.60H340.88Z M342.90,495.81H345.68V500.41H342.90Z M345.08,488.61H348.16V493.21H345.08Z M347.56,481.41H351.58V486.01H347.56Z M350.98,474.22H360.50V478.82H350.98Z M359.90,481.41H363.92V486.01H359.90Z M363.32,488.61H366.41V493.21H363.32Z M365.81,495.81H368.59V500.41H365.81Z M367.99,503.00H370.61V507.60H367.99Z M370.01,510.20H372.57V514.80H370.01Z M371.97,517.40H374.59V522.00H371.97Z M373.99,524.59H376.76V529.19H373.99Z M376.16,531.79H379.25V536.39H376.16Z M378.65,538.99H382.67V543.59H378.65Z M382.07,546.18H391.59V550.78H382.07Z M390.99,538.99H395.01V543.59H390.99Z M394.41,531.79H397.50V536.39H394.41Z M396.90,524.59H399.67V529.19H396.90Z M399.07,517.40H401.69V522.00H399.07Z M401.09,510.20H403.65V514.80H401.09Z M403.05,503.00H405.67V507.60H403.05Z M405.07,495.81H407.85V500.41H405.07Z M407.25,488.61H410.34V493.21H407.25Z M409.74,481.41H413.75V486.01H409.74Z M413.15,474.22H422.68V478.82H413.15Z M422.08,481.41H426.10V486.01H422.08Z M425.50,488.61H428.58V493.21H425.50Z M427.98,495.81H430.76V500.41H427.98Z M430.16,503.00H432.78V507.60H430.16Z M432.18,510.20H434.74V514.80H432.18Z M434.14,517.40H436.76V522.00H434.14Z M436.16,524.59H438.93V529.19H436.16Z M438.33,531.79H441.42V536.39H438.33Z M440.82,538.99H444.84V543.59H440.82Z M444.24,546.18H453.76V550.78H444.24Z M453.16,538.99H457.18V543.59H453.16Z M456.58,531.79H459.67V536.39H456.58Z M459.07,524.59H461.84V529.19H459.07Z M461.24,517.40H463.86V522.00H461.24Z M463.26,510.20H465.82V514.80H463.26Z M465.22,503.00H467.84V507.60H465.22Z M467.24,495.81H470.02V500.41H467.24Z M469.42,488.61H472.51V493.21H469.42Z M471.91,481.41H475.93V486.01H471.91Z M475.33,474.22H484.85V478.82H475.33Z M484.25,481.41H488.27V486.01H484.25Z M487.67,488.61H490.75V493.21H487.67Z M490.15,495.81H492.93V500.41H490.15Z M492.33,503.00H494.95V507.60H492.33Z M494.35,510.20H496.91V514.80H494.35Z M496.31,517.40H498.93V522.00H496.31Z M498.33,524.59H501.11V529.19H498.33Z M500.51,531.79H503.59V536.39H500.51Z M502.99,538.99H507.01V543.59H502.99Z M506.41,546.18H515.93V550.78H506.41Z M515.33,538.99H519.35V543.59H515.33Z M518.75,531.79H521.84V536.39H518.75Z M521.24,524.59H524.02V529.19H521.24Z M523.42,517.40H526.04V522.00H523.42Z M525.44,510.20H527.99V514.80H525.44Z M527.39,503.00H530.02V507.60H527.39Z M529.42,495.81H532.19V500.41H529.42Z M531.59,488.61H534.68V493.21H531.59Z M534.08,481.41H538.10V486.01H534.08Z M537.50,474.22H547.02V478.82H537.50Z M546.42,481.41H550.44V486.01H546.42Z M549.84,488.61H552.93V493.21H549.84Z M552.33,495.81H555.10V500.41H552.33Z M554.50,503.00H557.12V507.60H554.50Z M556.52,510.20H559.08V514.80H556.52Z M558.48,517.40H561.10V522.00H558.48Z M560.50,524.59H563.28V529.19H560.50Z M562.68,531.79H565.76V536.39H562.68Z M565.16,538.99H569.18V543.59H565.16Z M568.58,546.18H578.10V550.78H568.58Z M577.50,538.99H581.52V543.59H577.50Z M580.92,531.79H584.01V536.39H580.92Z M583.41,524.59H586.19V529.19H583.41Z M585.59,517.40H588.21V522.00H585.59Z M587.61,510.20H590.17V514.80H587.61Z M589.57,503.00H592.19V507.60H589.57Z M591.59,495.81H594.36V500.41H591.59Z M593.76,488.61H596.85V493.21H593.76Z M596.25,481.41H600.27V486.01H596.25Z M599.67,474.22H601.11V478.82H599.67Z" fill="#1a6a9c" stroke="none"/><path d="M91.50,512.50 H92.49 V505.30 H94.52 V498.11 H96.69 V490.91 H99.18 V483.71 H102.60 V476.52 H111.52 V483.71 H114.94 V490.91 H117.43 V498.11 H119.60 V505.30 H121.62 V512.50 H123.58 V519.70 H125.60 V526.89 H127.78 V534.09 H130.26 V541.29 H133.68 V548.48 H142.60 V541.29 H146.02 V534.09 H148.51 V526.89 H150.69 V519.70 H152.71 V512.50 H154.67 V505.30 H156.69 V498.11 H158.86 V490.91 H161.35 V483.71 H164.77 V476.52 H173.69 V483.71 H177.11 V490.91 H179.60 V498.11 H181.77 V505.30 H183.79 V512.50 H185.75 V519.70 H187.77 V526.89 H189.95 V534.09 H192.44 V541.29 H195.85 V548.48 H204.78 V541.29 H208.20 V534.09 H210.68 V526.89 H212.86 V519.70 H214.88 V512.50 H216.84 V505.30 H218.86 V498.11 H221.03 V490.91 H223.52 V483.71 H226.94 V476.52 H235.86 V483.71 H239.28 V490.91 H241.77 V498.11 H243.94 V505.30 H245.96 V512.50 H247.92 V519.70 H249.94 V526.89 H252.12 V534.09 H254.61 V541.29 H258.03 V548.48 H266.95 V541.29 H270.37 V534.09 H272.85 V526.89 H275.03 V519.70 H277.05 V512.50 H279.01 V505.30 H281.03 V498.11 H283.21 V490.91 H285.69 V483.71 H289.11 V476.52 H298.03 V483.71 H301.45 V490.91 H303.94 V498.11 H306.12 V505.30 H308.14 V512.50 H310.09 V519.70 H312.12 V526.89 H314.29 V534.09 H316.78 V541.29 H320.20 V548.48 H329.12 V541.29 H332.54 V534.09 H335.03 V526.89 H337.20 V519.70 H339.22 V512.50 H341.18 V505.30 H343.20 V498.11 H345.38 V490.91 H347.86 V483.71 H351.28 V476.52 H360.20 V483.71 H363.62 V490.91 H366.11 V498.11 H368.29 V505.30 H370.31 V512.50 H372.27 V519.70 H374.29 V526.89 H376.46 V534.09 H378.95 V541.29 H382.37 V548.48 H391.29 V541.29 H394.71 V534.09 H397.20 V526.89 H399.37 V519.70 H401.39 V512.50 H403.35 V505.30 H405.37 V498.11 H407.55 V490.91 H410.04 V483.71 H413.45 V476.52 H422.38 V483.71 H425.80 V490.91 H428.28 V498.11 H430.46 V505.30 H432.48 V512.50 H434.44 V519.70 H436.46 V526.89 H438.63 V534.09 H441.12 V541.29 H444.54 V548.48 H453.46 V541.29 H456.88 V534.09 H459.37 V526.89 H461.54 V519.70 H463.56 V512.50 H465.52 V505.30 H467.54 V498.11 H469.72 V490.91 H472.21 V483.71 H475.63 V476.52 H484.55 V483.71 H487.97 V490.91 H490.45 V498.11 H492.63 V505.30 H494.65 V512.50 H496.61 V519.70 H498.63 V526.89 H500.81 V534.09 H503.29 V541.29 H506.71 V548.48 H515.63 V541.29 H519.05 V534.09 H521.54 V526.89 H523.72 V519.70 H525.74 V512.50 H527.69 V505.30 H529.72 V498.11 H531.89 V490.91 H534.38 V483.71 H537.80 V476.52 H546.72 V483.71 H550.14 V490.91 H552.63 V498.11 H554.80 V505.30 H556.82 V512.50 H558.78 V519.70 H560.80 V526.89 H562.98 V534.09 H565.46 V541.29 H568.88 V548.48 H577.80 V541.29 H581.22 V534.09 H583.71 V526.89 H585.89 V519.70 H587.91 V512.50 H589.87 V505.30 H591.89 V498.11 H594.06 V490.91 H596.55 V483.71 H599.97 V476.52 H600.81" fill="none" stroke="#1a6a9c" stroke-width="1.4"/>
<text x="90.8" y="567.7" text-anchor="middle" class="tk">0</text>
<text x="168.5" y="567.7" text-anchor="middle" class="tk">1</text>
<text x="246.2" y="567.7" text-anchor="middle" class="tk">2</text>
<text x="323.9" y="567.7" text-anchor="middle" class="tk">3</text>
<text x="401.7" y="567.7" text-anchor="middle" class="tk">4</text>
<text x="479.4" y="567.7" text-anchor="middle" class="tk">5</text>
<text x="557.1" y="567.7" text-anchor="middle" class="tk">6</text>
<text x="634.8" y="567.7" text-anchor="middle" class="tk">7</text>
<text x="87.6" y="481.7" text-anchor="end" class="tk">5</text>
<text x="87.6" y="517.7" text-anchor="end" class="tk">0</text>
<text x="87.6" y="553.7" text-anchor="end" class="tk">-5</text>
<rect x="91.5" y="474.5" width="544.0" height="76.0" fill="none" stroke="#262626" stroke-width="1"/>
<text x="605.2" y="589.3" class="tk" style="font-size:14.5px">×</text><text x="614.6" y="587.5" class="tk">10</text><text x="629.6" y="581.0" class="tk" style="font-size:9.8px">4</text>
<text x="364.3" y="467.5" text-anchor="middle" class="tt"><tspan class="lat">LSB</tspan>提取水印信号</text>
<text class="pk" fill-opacity="0.27" style="font-size:20.5px" transform="translate(85,252) rotate(-25.3)"><tspan class="pl">CSDN</tspan>博客：<tspan dx="9">简</tspan>简单单做算法</text>
<text class="pk" fill-opacity="0.36" style="font-size:21.0px" transform="translate(347.7,252.6) rotate(-25.0)"><tspan class="pl">CSDN</tspan>博客：<tspan dx="9">简</tspan>简单单做算法</text>
<text class="pk" fill-opacity="0.25" style="font-size:20.5px" transform="translate(74.1,486.9) rotate(-25.3)"><tspan class="pl">CSDN</tspan>博客：<tspan dx="9">简</tspan>简单单做算法</text>
<text class="pk" fill-opacity="0.3" style="font-size:20.5px" transform="translate(349.5,516) rotate(-26.0)"><tspan class="pl">CSDN</tspan>博客：<tspan dx="9">简</tspan>简单单做算法</text>
</svg>
<div class="jj">掘金技术社区 @ 简简单单做算法</div>
<div class="cs">CSDN @简简单单做算法</div>
</body></html>
